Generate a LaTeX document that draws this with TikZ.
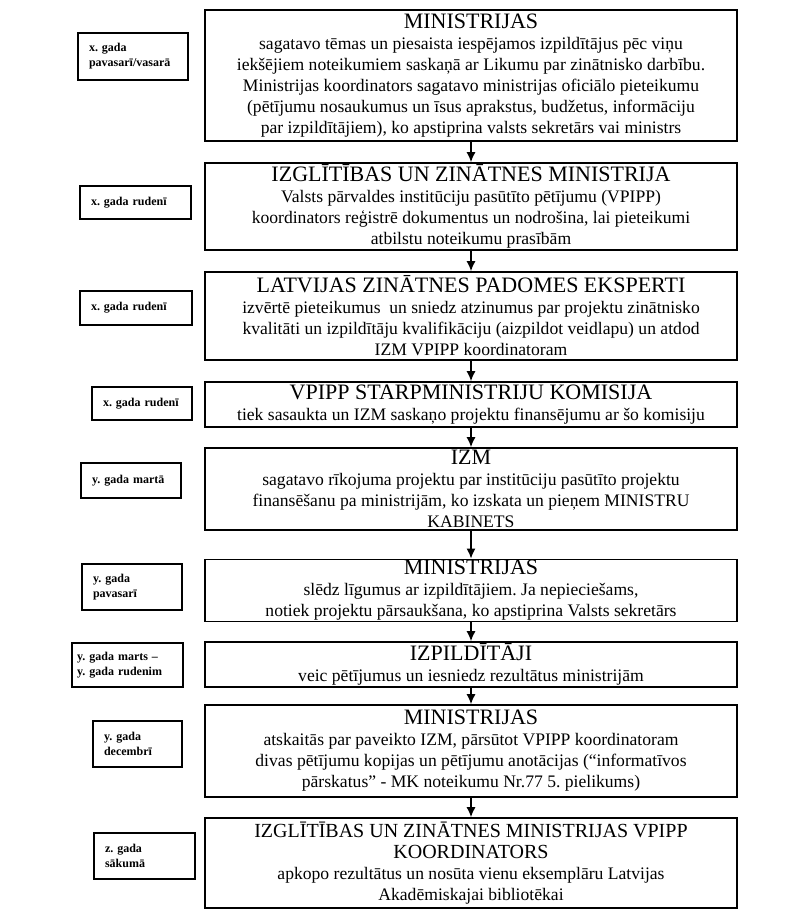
\documentclass[tikz,border=0pt]{standalone}
\usepackage{fontspec}
\setmainfont{Liberation Serif}
\usetikzlibrary{arrows.meta}

\newcommand{\stagetitle}[1]{{\fontsize{11}{12}\selectfont #1}\\}
\newcommand{\smalltitle}[1]{{\fontsize{10}{11}\selectfont #1}\\}

\begin{document}
\frenchspacing
\begin{tikzpicture}[x=0.5pt, y=-0.5pt,
  stage/.style={draw, line width=0.8pt, align=center, minimum width=266pt,
    inner xsep=2pt, inner ysep=0.5pt, font=\fontsize{8.8}{10.5}\selectfont},
  when/.style={draw, line width=0.9pt, align=left, inner xsep=5.5pt, inner ysep=1pt,
    font=\bfseries\fontsize{6}{7.5}\selectfont},
  flow/.style={-{Latex[length=5pt, width=4.5pt]}, line width=0.7pt}]

  \useasboundingbox (0,0) rectangle (800,914);

  % posmi
  \node[stage, minimum height=65.5pt] (b1) at (471,75.5) {\stagetitle{MINISTRIJAS}
    sagatavo tēmas un piesaista iespējamos izpildītājus pēc viņu\\
    iekšējiem noteikumiem saskaņā ar Likumu par zinātnisko darbību.\\
    Ministrijas koordinators sagatavo ministrijas oficiālo pieteikumu\\
    (pētījumu nosaukumus un īsus aprakstus, budžetus, informāciju\\
    par izpildītājiem), ko apstiprina valsts sekretārs vai ministrs};
  \node[stage, minimum height=43.5pt] (b2) at (471,206.5) {\stagetitle{IZGLĪTĪBAS UN ZINĀTNES MINISTRIJA}
    Valsts pārvaldes institūciju pasūtīto pētījumu (VPIPP)\\
    koordinators reģistrē dokumentus un nodrošina, lai pieteikumi\\
    atbilstu noteikumu prasībām};
  \node[stage, minimum height=44pt] (b3) at (471,316) {\stagetitle{LATVIJAS ZINĀTNES PADOMES EKSPERTI}
    izvērtē pieteikumus\ \ un sniedz atzinumus par projektu zinātnisko\\
    kvalitāti un izpildītāju kvalifikāciju (aizpildot veidlapu) un atdod\\
    IZM VPIPP koordinatoram};
  \node[stage, minimum height=22.5pt] (b4) at (471,404.5) {\stagetitle{VPIPP STARPMINISTRIJU KOMISIJA}
    tiek sasaukta un IZM saskaņo projektu finansējumu ar šo komisiju};
  \node[stage, minimum height=41pt] (b5) at (471,489) {\stagetitle{IZM}
    sagatavo rīkojuma projektu par institūciju pasūtīto projektu\\
    finansēšanu pa ministrijām, ko izskata un pieņem MINISTRU\\
    KABINETS};
  \node[stage, minimum height=30.5pt] (b6) at (471,590.5) {\stagetitle{MINISTRIJAS}
    slēdz līgumus ar izpildītājiem. Ja nepieciešams,\\
    notiek projektu pārsaukšana, ko apstiprina Valsts sekretārs};
  \node[stage, minimum height=22.5pt] (b7) at (471,664.5) {\stagetitle{IZPILDĪTĀJI}
    veic pētījumus un iesniedz rezultātus ministrijām};
  \node[stage, minimum height=46pt] (b8) at (471,751) {\stagetitle{MINISTRIJAS}
    atskaitās par paveikto IZM, pārsūtot VPIPP koordinatoram\\
    divas pētījumu kopijas un pētījumu anotācijas (“informatīvos\\
    pārskatus" - MK noteikumu Nr.77 5. pielikums)};
  \node[stage, minimum height=45pt] (b9) at (471,863) {\smalltitle{IZGLĪTĪBAS UN ZINĀTNES MINISTRIJAS VPIPP}
    \smalltitle{KOORDINATORS}
    apkopo rezultātus un nosūta vienu eksemplāru Latvijas\\
    Akadēmiskajai bibliotēkai};

  % laiks
  \node[when, text width=44pt, minimum height=23.5pt] (t1) at (133,56.5) {x. gada\\pavasarī/vasarā};
  \node[when, text width=44.5pt, minimum height=16.5pt] (t2) at (135.5,202.5) {x. gada rudenī};
  \node[when, text width=45pt, minimum height=17pt] (t3) at (136,308) {x. gada rudenī};
  \node[when, text width=39pt, minimum height=16.5pt] (t4) at (142,403.5) {x. gada rudenī};
  \node[when, text width=39pt, minimum height=17.5pt] (t5) at (131,480.5) {y. gada martā};
  \node[when, text width=39pt, minimum height=23pt] (t6) at (132,587) {y. gada\\pavasarī};
  \node[when, inner xsep=2.5pt, text width=50.5pt, minimum height=22pt] (t7) at (127.5,665) {y. gada marts --\\y. gada rudenim};
  \node[when, text width=33.5pt, minimum height=23pt] (t8) at (137.5,744) {y. gada\\decembrī};
  \node[when, text width=39.5pt, minimum height=23pt] (t9) at (144.5,856) {z. gada\\sākumā};

  % bultas
  \foreach \a/\b in {b1/b2, b2/b3, b3/b4, b4/b5, b5/b6, b6/b7, b7/b8, b8/b9}
    \draw[flow] (\a) -- (\b);
\end{tikzpicture}
\end{document}
